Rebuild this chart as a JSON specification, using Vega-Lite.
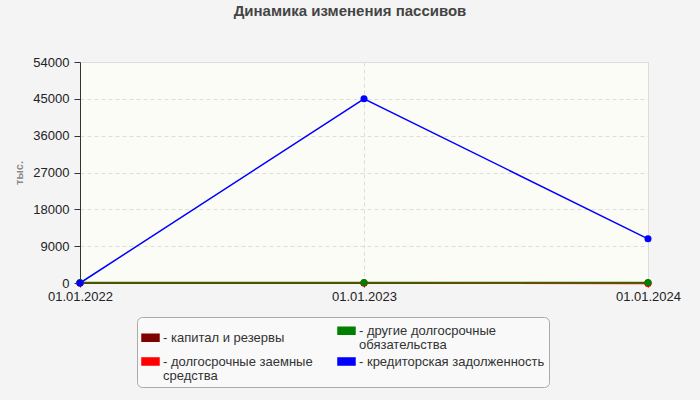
{
  "$schema": "https://vega.github.io/schema/vega-lite/v6.json",
  "description": "Динамика изменения пассивов",
  "autosize": {"type": "none"},
  "padding": {"left": 80, "top": 62, "right": 52, "bottom": 117},
  "width": 568,
  "height": 221,
  "background": "#f4f4f4",
  "config": {
    "font": "Liberation Sans",
    "view": {"stroke": "#dddddd", "fill": "#fcfcf6"},
    "axis": {"labelColor": "#222222", "labelFontSize": 13, "tickColor": "#333333", "domainColor": "#333333"},
    "style": {"guide-label": {"lineHeight": 14}}
  },
  "title": {
    "text": "Динамика изменения пассивов",
    "fontSize": 15,
    "fontWeight": "bold",
    "color": "#444444",
    "offset": 37,
    "dx": -14
  },
  "data": {
    "values": [
      {"date": "01.01.2022", "series": "капитал и резервы", "value": 0},
      {"date": "01.01.2023", "series": "капитал и резервы", "value": 0},
      {"date": "01.01.2024", "series": "капитал и резервы", "value": 0},
      {"date": "01.01.2022", "series": "долгосрочные заемные средства", "value": 0},
      {"date": "01.01.2023", "series": "долгосрочные заемные средства", "value": 0},
      {"date": "01.01.2024", "series": "долгосрочные заемные средства", "value": -150},
      {"date": "01.01.2022", "series": "другие долгосрочные обязательства", "value": 120},
      {"date": "01.01.2023", "series": "другие долгосрочные обязательства", "value": 120},
      {"date": "01.01.2024", "series": "другие долгосрочные обязательства", "value": 120},
      {"date": "01.01.2022", "series": "кредиторская задолженность", "value": 0},
      {"date": "01.01.2023", "series": "кредиторская задолженность", "value": 45000},
      {"date": "01.01.2024", "series": "кредиторская задолженность", "value": 10800}
    ]
  },
  "mark": {"type": "line", "point": {"filled": true, "size": 50, "opacity": 1, "strokeWidth": 0}, "clip": false},
  "encoding": {
    "x": {
      "field": "date",
      "type": "ordinal",
      "scale": {"type": "point", "padding": 0},
      "title": null,
      "axis": {"labelAngle": 0, "grid": true, "gridDash": [4, 3], "gridColor": "#dddddd", "tickSize": 4, "labelPadding": 3}
    },
    "y": {
      "field": "value",
      "type": "quantitative",
      "scale": {"domain": [0, 54000], "nice": false},
      "title": "тыс.",
      "axis": {
        "values": [0, 9000, 18000, 27000, 36000, 45000, 54000],
        "format": "d",
        "grid": true,
        "gridDash": [4, 3],
        "gridColor": "#dddddd",
        "tickSize": 6,
        "labelPadding": 5,
        "titleColor": "#888888",
        "titleFontSize": 11,
        "titleFontWeight": "bold",
        "titlePadding": 8
      }
    },
    "strokeWidth": {
      "field": "series",
      "type": "nominal",
      "scale": {
        "domain": ["капитал и резервы", "долгосрочные заемные средства", "другие долгосрочные обязательства", "кредиторская задолженность"],
        "range": [1.5, 1.5, 3, 1.5]
      },
      "legend": null
    },
    "color": {
      "field": "series",
      "type": "nominal",
      "scale": {
        "domain": ["капитал и резервы", "долгосрочные заемные средства", "другие долгосрочные обязательства", "кредиторская задолженность"],
        "range": ["#800000", "#ff0000", "#008000", "#0000ff"]
      },
      "legend": {
        "title": null,
        "orient": "none",
        "legendX": 57,
        "legendY": 255,
        "columns": 2,
        "columnPadding": 22,
        "rowPadding": 0,
        "padding": 4,
        "fillColor": "#f9f9f9",
        "strokeColor": "#aaaaaa",
        "cornerRadius": 5,
        "symbolType": "M-1,-0.42H1V0.42H-1Z",
        "symbolSize": 289,
        "symbolStrokeColor": "#888888",
        "symbolStrokeWidth": 1,
        "labelFontSize": 13,
        "labelColor": "#333333",
        "labelOffset": 3,
        "labelLimit": 300,
        "labelExpr": "datum.label == 'долгосрочные заемные средства' ? ['- долгосрочные заемные', '\u00a0\u00a0средства'] : datum.label == 'другие долгосрочные обязательства' ? ['- другие долгосрочные', '\u00a0\u00a0обязательства'] : '- ' + datum.label"
      }
    }
  }
}
